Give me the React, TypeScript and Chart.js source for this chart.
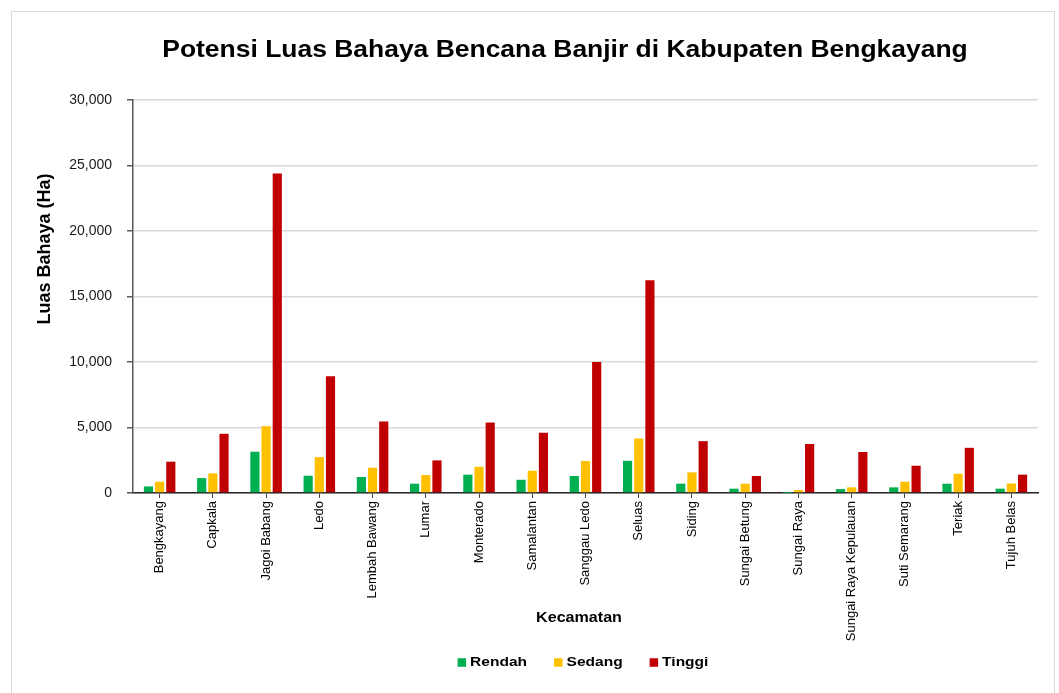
import { useEffect, useRef } from "react";
import { Chart, registerables } from "chart.js";

Chart.register(...registerables);

const categories = [
  "Bengkayang", "Capkala", "Jagoi Babang", "Ledo", "Lembah Bawang", "Lumar",
  "Monterado", "Samalantan", "Sanggau Ledo", "Seluas", "Siding", "Sungai Betung",
  "Sungai Raya", "Sungai Raya Kepulauan", "Suti Semarang", "Teriak", "Tujuh Belas",
];
const rendah = [500, 1140, 3150, 1320, 1220, 710, 1400, 1010, 1300, 2460, 710, 330, 10, 300, 430, 710, 330];
const sedang = [860, 1500, 5100, 2740, 1930, 1370, 2000, 1700, 2440, 4160, 1570, 710, 230, 430, 860, 1470, 730];
const tinggi = [2390, 4520, 24390, 8920, 5460, 2490, 5380, 4600, 10000, 16250, 3960, 1300, 3740, 3130, 2080, 3450, 1400];
const seriesNames = ["Rendah", "Sedang", "Tinggi"];
const seriesColors = ["#00B050", "#FFC000", "#C00000"];
const yMin = 0;
const yMax = 30000;
const yStep = 5000;
const chartTitle = "Potensi Luas Bahaya Bencana Banjir di Kabupaten Bengkayang";
const yTitle = "Luas Bahaya (Ha)";
const xTitle = "Kecamatan";

const FONT = '"Liberation Sans", Arial, sans-serif';
const SX = 1.15;

function stretchedText(ctx: CanvasRenderingContext2D, text: string, x: number, y: number, font: string, align: CanvasTextAlign) {
  ctx.save();
  ctx.font = font;
  ctx.translate(x, y);
  ctx.scale(SX, 1);
  ctx.textAlign = align;
  ctx.textBaseline = "middle";
  ctx.fillStyle = "#000";
  ctx.fillText(text, 0, 0);
  ctx.restore();
}

export default function App() {
  const ref = useRef<HTMLCanvasElement | null>(null);

  useEffect(() => {
    if (!ref.current) return;
    const decor = {
      id: "decor",
      afterDraw(chart: any) {
        const ctx: CanvasRenderingContext2D = chart.ctx;
        ctx.save();
        ctx.strokeStyle = "#d9d9d9";
        ctx.lineWidth = 1;
        ctx.strokeRect(11.5, 11.5, 1043, 700);
        ctx.restore();

        stretchedText(ctx, chartTitle, 565, 51, `bold 23px ${FONT}`, "center");

        ctx.save();
        ctx.font = `bold 18px ${FONT}`;
        ctx.translate(45, 249);
        ctx.rotate(-Math.PI / 2);
        ctx.textAlign = "center";
        ctx.textBaseline = "middle";
        ctx.fillStyle = "#000";
        ctx.fillText(yTitle, 0, 0);
        ctx.restore();

        stretchedText(ctx, xTitle, 579, 618, `bold 14px ${FONT}`, "center");

        // legend
        const lf = `bold 13.5px ${FONT}`;
        ctx.save();
        ctx.font = lf;
        const box = 8.5;
        const gap = 4;
        const between = 27;
        const items = chart.data.datasets.map((d: any) => ({
          label: d.label,
          color: d.backgroundColor,
          w: ctx.measureText(d.label).width * SX,
        }));
        ctx.restore();
        const total = items.reduce((s: number, it: any) => s + box + gap + it.w, 0) + between * (items.length - 1);
        let x = 583 - total / 2;
        const ly = 662.5;
        items.forEach((it: any) => {
          ctx.save();
          ctx.fillStyle = it.color;
          ctx.fillRect(x, ly - box / 2, box, box);
          ctx.restore();
          stretchedText(ctx, it.label, x + box + gap, ly, lf, "left");
          x += box + gap + it.w + between;
        });
      },
    };

    const chart = new Chart(ref.current, {
      type: "bar",
      data: {
        labels: categories,
        datasets: [rendah, sedang, tinggi].map((vals, i) => ({
          label: seriesNames[i],
          data: vals,
          backgroundColor: seriesColors[i],
          borderWidth: 0,
          categoryPercentage: 0.63,
          barPercentage: 0.82,
        })),
      },
      options: {
        responsive: false,
        animation: false,
        devicePixelRatio: 1,
        layout: { padding: { top: 100, left: 0, right: 21, bottom: 0 } },
        plugins: {
          legend: { display: false },
          title: { display: false },
          tooltip: { enabled: false },
        },
        scales: {
          x: {
            offset: true,
            grid: {
              display: true,
              drawOnChartArea: false,
              offset: false,
              tickLength: 5,
              tickColor: "#404040",
              tickWidth: 1,
            },
            border: { color: "#262626", width: 1.5 },
            ticks: {
              autoSkip: false,
              maxRotation: 90,
              minRotation: 90,
              padding: 3,
              color: "#000",
              font: { family: FONT, size: 13 },
            },
            afterFit: (s: any) => {
              s.height = 200;
            },
          },
          y: {
            min: yMin,
            max: yMax,
            ticks: {
              stepSize: yStep,
              padding: 15,
              color: "#1a1a1a",
              font: { family: FONT, size: 14 },
              callback: (v: any) => Number(v).toLocaleString("en-US"),
            },
            grid: {
              color: "#d9d9d9",
              lineWidth: 1.5,
              tickColor: "#595959",
              tickLength: 6,
            },
            border: { color: "#595959", width: 1.5 },
            afterFit: (s: any) => {
              s.width = 133;
            },
          },
        },
      },
      plugins: [decor],
    } as any);
    return () => chart.destroy();
  }, []);

  return (
    <div style={{ position: "absolute", left: 0, top: 0, width: 1059, height: 693 }}>
      <canvas ref={ref} width={1059} height={693} style={{ display: "block" }} />
    </div>
  );
}
